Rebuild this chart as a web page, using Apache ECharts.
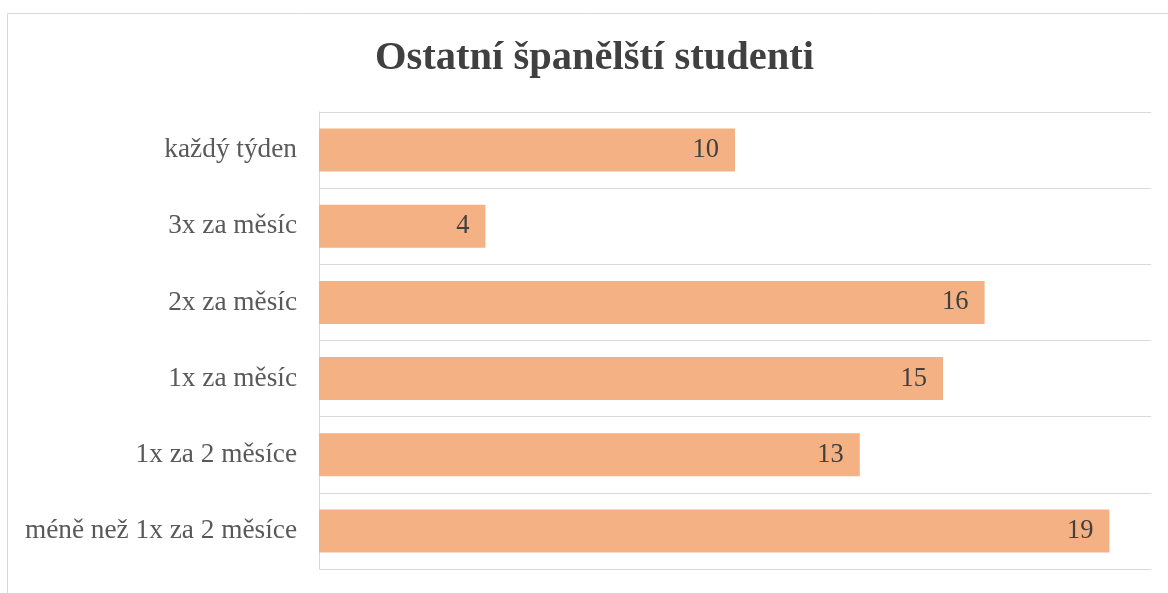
<!DOCTYPE html>
<html><head><meta charset="utf-8">
<script src="https://cdn.jsdelivr.net/npm/echarts@6/dist/echarts.min.js"></script>
<style>html,body{margin:0;padding:0;background:#fff}#c{width:1168px;height:593px}</style>
</head><body><div id="c"></div>
<script>
const categories = ['každý týden','3x za měsíc','2x za měsíc','1x za měsíc','1x za 2 měsíce','méně než 1x za 2 měsíce'];
const values = [10, 4, 16, 15, 13, 19];
const titleText = 'Ostatní španělští studenti';

const chart = echarts.init(document.getElementById('c'));
chart.setOption({
  animation: false,
  backgroundColor: '#fff',
  graphic: [{type:'rect', shape:{x:7.5,y:13.5,width:1200,height:700}, style:{fill:'none', stroke:'#d9d9d9', lineWidth:1}, silent:true}],
  title: {text: titleText, left: 589.5, textAlign:'center', top: 33,
    textStyle:{fontFamily:'Liberation Serif', fontWeight:'bold', fontSize:40.5, color:'#404040'}},
  grid: {left: 319, right: 1168-1151, top: 112, bottom: 593-569, containLabel:false},
  xAxis: {type:'value', min:0, max:20, interval:2, show:true,
    axisLabel:{show:false}, axisLine:{show:false}, axisTick:{show:false}, splitLine:{show:false}},
  yAxis: {type:'category', data: categories, inverse:true,
    axisLine:{show:true, lineStyle:{color:'#d9d9d9', width:1}},
    axisTick:{show:false},
    splitLine:{show:true, lineStyle:{color:'#d9d9d9', width:1}},
    axisLabel:{margin:22, fontFamily:'Liberation Serif', fontSize:27.3, color:'#595959'}},
  series: [{type:'bar', data: values, barWidth: 43,
    itemStyle:{color:'#F4B183'},
    label:{show:true, position:'insideRight', distance:16, fontFamily:'Liberation Serif', fontSize:26.5, color:'#404040'}}]
});
</script></body></html>
